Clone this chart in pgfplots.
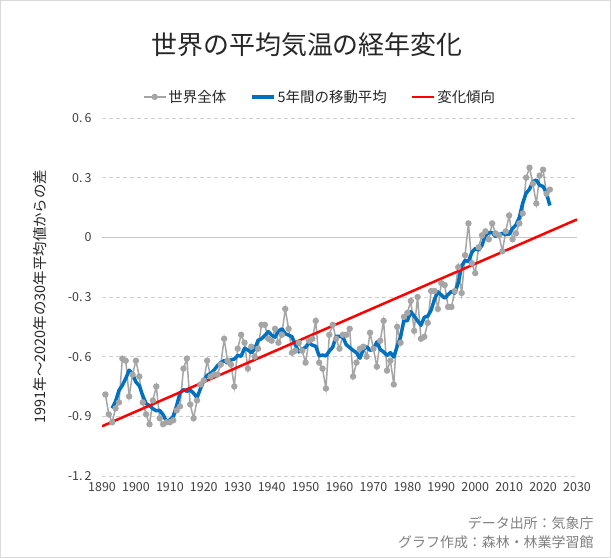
\documentclass[border=0pt]{standalone}
\usepackage{pgfplots}
\usepackage{pgfplotstable}
\pgfplotsset{compat=1.18}
\usepackage{fontspec}
\setmainfont{Noto Sans CJK JP}
\definecolor{gser}{HTML}{A5A5A5}
\definecolor{bser}{HTML}{0070C0}
\definecolor{rser}{HTML}{FF0000}
\definecolor{gridc}{HTML}{D0D0D0}
\definecolor{zeroc}{HTML}{C8C8C8}
\definecolor{txt}{HTML}{262626}
\definecolor{tick}{HTML}{404040}
\definecolor{foot}{HTML}{808080}

\pgfplotstableread{
year val
1891 -0.79
1892 -0.89
1893 -0.93
1894 -0.86
1895 -0.83
1896 -0.61
1897 -0.62
1898 -0.80
1899 -0.69
1900 -0.62
1901 -0.70
1902 -0.83
1903 -0.89
1904 -0.94
1905 -0.82
1906 -0.75
1907 -0.91
1908 -0.94
1909 -0.93
1910 -0.93
1911 -0.92
1912 -0.87
1913 -0.85
1914 -0.66
1915 -0.61
1916 -0.84
1917 -0.91
1918 -0.82
1919 -0.74
1920 -0.72
1921 -0.62
1922 -0.70
1923 -0.69
1924 -0.69
1925 -0.64
1926 -0.51
1927 -0.62
1928 -0.64
1929 -0.75
1930 -0.56
1931 -0.49
1932 -0.53
1933 -0.66
1934 -0.55
1935 -0.60
1936 -0.56
1937 -0.44
1938 -0.44
1939 -0.51
1940 -0.52
1941 -0.46
1942 -0.53
1943 -0.49
1944 -0.36
1945 -0.46
1946 -0.58
1947 -0.57
1948 -0.53
1949 -0.57
1950 -0.63
1951 -0.52
1952 -0.51
1953 -0.42
1954 -0.63
1955 -0.66
1956 -0.76
1957 -0.49
1958 -0.44
1959 -0.51
1960 -0.56
1961 -0.49
1962 -0.49
1963 -0.46
1964 -0.70
1965 -0.63
1966 -0.56
1967 -0.55
1968 -0.60
1969 -0.48
1970 -0.56
1971 -0.65
1972 -0.52
1973 -0.42
1974 -0.67
1975 -0.62
1976 -0.74
1977 -0.45
1978 -0.53
1979 -0.40
1980 -0.38
1981 -0.32
1982 -0.47
1983 -0.30
1984 -0.51
1985 -0.50
1986 -0.43
1987 -0.27
1988 -0.27
1989 -0.36
1990 -0.23
1991 -0.24
1992 -0.35
1993 -0.35
1994 -0.27
1995 -0.15
1996 -0.28
1997 -0.09
1998 0.07
1999 -0.13
2000 -0.18
2001 -0.05
2002 0.01
2003 0.03
2004 -0.01
2005 0.07
2006 0.02
2007 0.01
2008 -0.07
2009 0.03
2010 0.11
2011 -0.01
2012 0.02
2013 0.07
2014 0.12
2015 0.30
2016 0.35
2017 0.27
2018 0.17
2019 0.31
2020 0.34
2021 0.22
2022 0.24
}\globaldata

\pgfplotstableread{
year ma
1893 -0.860
1894 -0.824
1895 -0.770
1896 -0.744
1897 -0.710
1898 -0.668
1899 -0.686
1900 -0.728
1901 -0.746
1902 -0.796
1903 -0.836
1904 -0.846
1905 -0.862
1906 -0.872
1907 -0.870
1908 -0.892
1909 -0.926
1910 -0.918
1911 -0.900
1912 -0.846
1913 -0.782
1914 -0.766
1915 -0.774
1916 -0.768
1917 -0.784
1918 -0.806
1919 -0.762
1920 -0.720
1921 -0.694
1922 -0.684
1923 -0.668
1924 -0.646
1925 -0.630
1926 -0.620
1927 -0.632
1928 -0.616
1929 -0.612
1930 -0.594
1931 -0.598
1932 -0.558
1933 -0.566
1934 -0.580
1935 -0.562
1936 -0.518
1937 -0.510
1938 -0.494
1939 -0.474
1940 -0.492
1941 -0.502
1942 -0.472
1943 -0.460
1944 -0.484
1945 -0.492
1946 -0.500
1947 -0.542
1948 -0.576
1949 -0.564
1950 -0.552
1951 -0.530
1952 -0.542
1953 -0.548
1954 -0.596
1955 -0.592
1956 -0.596
1957 -0.572
1958 -0.552
1959 -0.498
1960 -0.498
1961 -0.502
1962 -0.540
1963 -0.554
1964 -0.568
1965 -0.580
1966 -0.608
1967 -0.564
1968 -0.550
1969 -0.568
1970 -0.562
1971 -0.526
1972 -0.564
1973 -0.576
1974 -0.594
1975 -0.580
1976 -0.602
1977 -0.548
1978 -0.500
1979 -0.416
1980 -0.420
1981 -0.374
1982 -0.396
1983 -0.420
1984 -0.442
1985 -0.402
1986 -0.396
1987 -0.366
1988 -0.312
1989 -0.274
1990 -0.290
1991 -0.306
1992 -0.288
1993 -0.272
1994 -0.280
1995 -0.228
1996 -0.144
1997 -0.116
1998 -0.122
1999 -0.076
2000 -0.056
2001 -0.064
2002 -0.040
2003 0.010
2004 0.024
2005 0.024
2006 0.004
2007 0.012
2008 0.020
2009 0.014
2010 0.016
2011 0.044
2012 0.062
2013 0.100
2014 0.172
2015 0.222
2016 0.242
2017 0.280
2018 0.288
2019 0.262
2020 0.256
2021 0.222
2022 0.160
}\madata

\begin{document}
\begin{tikzpicture}[x=1bp,y=1bp]
\useasboundingbox (0,0) rectangle (611,558);
\fill[white] (0,0) rectangle (611,558);
\draw[gray!30, line width=1bp] (0.5,0.5) rectangle (610.5,557.5);
\node[font=\fontsize{26}{30}\selectfont, text=txt] at (307,513) {世界の平均気温の経年変化};
\begin{axis}[
  at={(102bp,82bp)}, anchor=south west,
  scale only axis, width=475bp, height=358bp,
  xmin=1890, xmax=2030, ymin=-1.2, ymax=0.6,
  xtick={1890,1900,1910,1920,1930,1940,1950,1960,1970,1980,1990,2000,2010,2020,2030},
  ytick={-1.2,-0.9,-0.6,-0.3,0,0.3,0.6},
  yticklabels={-1.\,2,-0.\,9,-0.\,6,-0.\,3,0,0.\,3,0.\,6},
  extra y ticks={0}, extra y tick labels={},
  extra y tick style={grid style={solid, draw=zeroc, line width=1bp}},
  axis line style={draw=none},
  major tick length=0pt,
  ymajorgrids,
  grid style={dashed, draw=gridc, line width=0.8bp, dash pattern=on 4bp off 3bp},
  /pgf/number format/assume math mode=true,
  /pgf/number format/set thousands separator={},
  xticklabel style={font=\fontsize{12.5}{14}\selectfont, text=tick},
  yticklabel style={font=\fontsize{12.5}{14}\selectfont, text=tick},
  xticklabel shift=3bp,
  yticklabel shift=7bp,
  legend columns=3,
  legend style={at={(0.459,1.059)}, anchor=center, draw=none, fill=none,
    font=\fontsize{14.5}{16}\selectfont, text=txt,
    /tikz/every even column/.append style={column sep=22bp}},
  legend image code/.code={\draw[mark repeat=2,mark phase=2,#1] plot coordinates {(0bp,0bp) (11bp,0bp) (22bp,0bp)};},
]
\addplot[color=gser, line width=1.5bp, mark=*, mark size=2.4bp, mark options={fill=gser, draw=gser}] table[x=year,y=val] {\globaldata};
\addlegendentry{世界全体}
\addplot[color=bser, line width=3.5bp, line join=round] table[x=year,y=ma] {\madata};
\addlegendentry{5年間の移動平均}
\addplot[color=rser, line width=2.5bp] coordinates {(1890,-0.95) (2030,0.09)};
\addlegendentry{変化傾向}
\end{axis}
\node[rotate=90, font=\fontsize{14.5}{16}\selectfont, text=txt] at (40,261.5) {1991年～2020年の30年平均値からの差};
\node[anchor=east, font=\fontsize{14}{16}\selectfont, text=foot] at (597,35) {データ出所：気象庁};
\node[anchor=east, font=\fontsize{14}{16}\selectfont, text=foot] at (597,16) {グラフ作成：森林・林業学習館};
\end{tikzpicture}
\end{document}
